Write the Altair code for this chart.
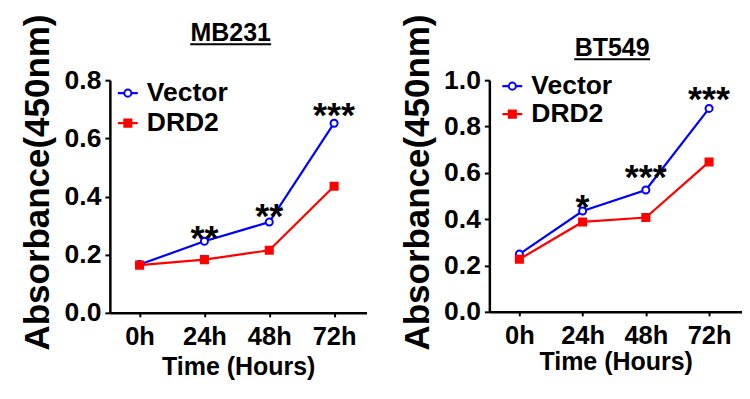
import altair as alt
import pandas as pd

hours = [0, 24, 48, 72]
series = ["Vector", "DRD2"]
colors = ["#0000ff", "#ff0000"]
fills = ["white", "#ff0000"]
shapes = ["circle", "square"]

mb_vector = [0.166, 0.246, 0.312, 0.652]
mb_drd2 = [0.164, 0.183, 0.215, 0.435]
mb_star_text = ["", "**", "**", "***"]
mb_star_y = [0.17, 0.278, 0.352, 0.702]

bt_vector = [0.249, 0.435, 0.526, 0.878]
bt_drd2 = [0.227, 0.388, 0.407, 0.647]
bt_star_text = ["", "*", "***", "***"]
bt_star_y = [0.26, 0.478, 0.608, 0.946]

FONT = "Liberation Sans"


def panel(title, vec, drd, star_text, star_y, ymax, yvals, width, height,
          xdom, leg_x, leg_y, leg_row, title_x, title_y, title_w,
          lab_pad, tit_pad):
    df = pd.DataFrame({
        "hour": hours * 2,
        "value": vec + drd,
        "series": ["Vector"] * len(hours) + ["DRD2"] * len(hours),
    })
    stars = pd.DataFrame({"hour": hours, "y": star_y, "label": star_text})
    stars = stars[stars["label"] != ""]

    x = alt.X("hour:Q",
              scale=alt.Scale(domain=xdom, nice=False, zero=False),
              axis=alt.Axis(values=hours, labelExpr="datum.value + 'h'",
                            title="Time (Hours)", labelFontSize=25.5,
                            titleFontSize=25, tickSize=4, labelPadding=lab_pad,
                            titlePadding=tit_pad, labelFlush=False))
    y = alt.Y("value:Q",
              scale=alt.Scale(domain=[0, ymax], nice=False),
              axis=alt.Axis(values=yvals, format=".1f",
                            title="Absorbance(450nm)", titleFontSize=35,
                            labelFontSize=26.5, tickSize=5, labelPadding=4,
                            titleX=-72, titleY=102, titleBaseline="middle",
                            titleAlign="center", titleAngle=-90))
    cscale = alt.Scale(domain=series, range=colors)
    base = alt.Chart(df)
    line = base.mark_line(strokeWidth=2.2).encode(
        x=x, y=y, color=alt.Color("series:N", scale=cscale, legend=None))
    pts = base.mark_point(size=50, strokeWidth=2, opacity=1).encode(
        x=x, y=y,
        color=alt.Color("series:N", scale=cscale, legend=None),
        shape=alt.Shape("series:N", scale=alt.Scale(domain=series, range=shapes),
                        legend=None),
        fill=alt.Fill("series:N", scale=alt.Scale(domain=series, range=fills),
                      legend=None),
    )
    txt = alt.Chart(stars).mark_text(font=FONT, fontSize=36, fontWeight="bold",
                                     baseline="middle", color="black",
                                     dy=7).encode(
        x=alt.X("hour:Q"), y=alt.Y("y:Q"), text="label:N")

    layers = [line, pts, txt]
    # legend drawn inside the plot (top-left), one row per series
    for i, s in enumerate(series):
        ly = leg_y + i * leg_row
        ldf = pd.DataFrame({"series": [s]})
        lb = alt.Chart(ldf)
        layers.append(lb.mark_rule(strokeWidth=2.2, color=colors[i]).encode(
            x=alt.value(leg_x), x2=alt.value(leg_x + 20), y=alt.value(ly)))
        layers.append(lb.mark_point(size=50, strokeWidth=2, opacity=1,
                                    shape=shapes[i], color=colors[i],
                                    fill=fills[i]).encode(
            x=alt.value(leg_x + 10), y=alt.value(ly)))
        layers.append(lb.mark_text(font=FONT, fontSize=26.5, fontWeight="bold",
                                   align="left", baseline="middle",
                                   color="black").encode(
            x=alt.value(leg_x + 29), y=alt.value(ly), text="series:N"))

    # underlined panel title
    tdf = pd.DataFrame({"t": [title]})
    tb = alt.Chart(tdf)
    layers.append(tb.mark_text(font=FONT, fontSize=25, fontWeight="bold",
                               align="center", baseline="alphabetic",
                               color="black").encode(
        x=alt.value(title_x), y=alt.value(title_y), text="t:N"))
    layers.append(tb.mark_rule(strokeWidth=2, color="black").encode(
        x=alt.value(title_x - title_w / 2), x2=alt.value(title_x + title_w / 2),
        y=alt.value(title_y + 3)))

    return alt.layer(*layers).properties(width=width, height=height)


left = panel("MB231", mb_vector, mb_drd2, mb_star_text, mb_star_y, 0.8,
             [0, 0.2, 0.4, 0.6, 0.8], 257, 233, [-11, 84], 8, 13, 30,
             121, -39, 81, 8, 4)
right = panel("BT549", bt_vector, bt_drd2, bt_star_text, bt_star_y, 1.0,
              [0, 0.2, 0.4, 0.6, 0.8, 1.0], 253, 232, [-11.4, 84.5], 13, 6, 28,
              123, -24, 76, 8, 0)

chart = alt.hconcat(left, right, spacing=33).properties(
    padding={"left": 12, "top": 5, "right": 0, "bottom": 0}
).configure_view(stroke=None).configure_axis(
    labelFont=FONT, titleFont=FONT, labelFontWeight="bold",
    titleFontWeight="bold", labelColor="black", titleColor="black",
    domainColor="black", domainWidth=2.5, tickColor="black", tickWidth=2,
    grid=False
)

chart.save("out.html", embed_options={"renderer": "svg", "actions": False})
